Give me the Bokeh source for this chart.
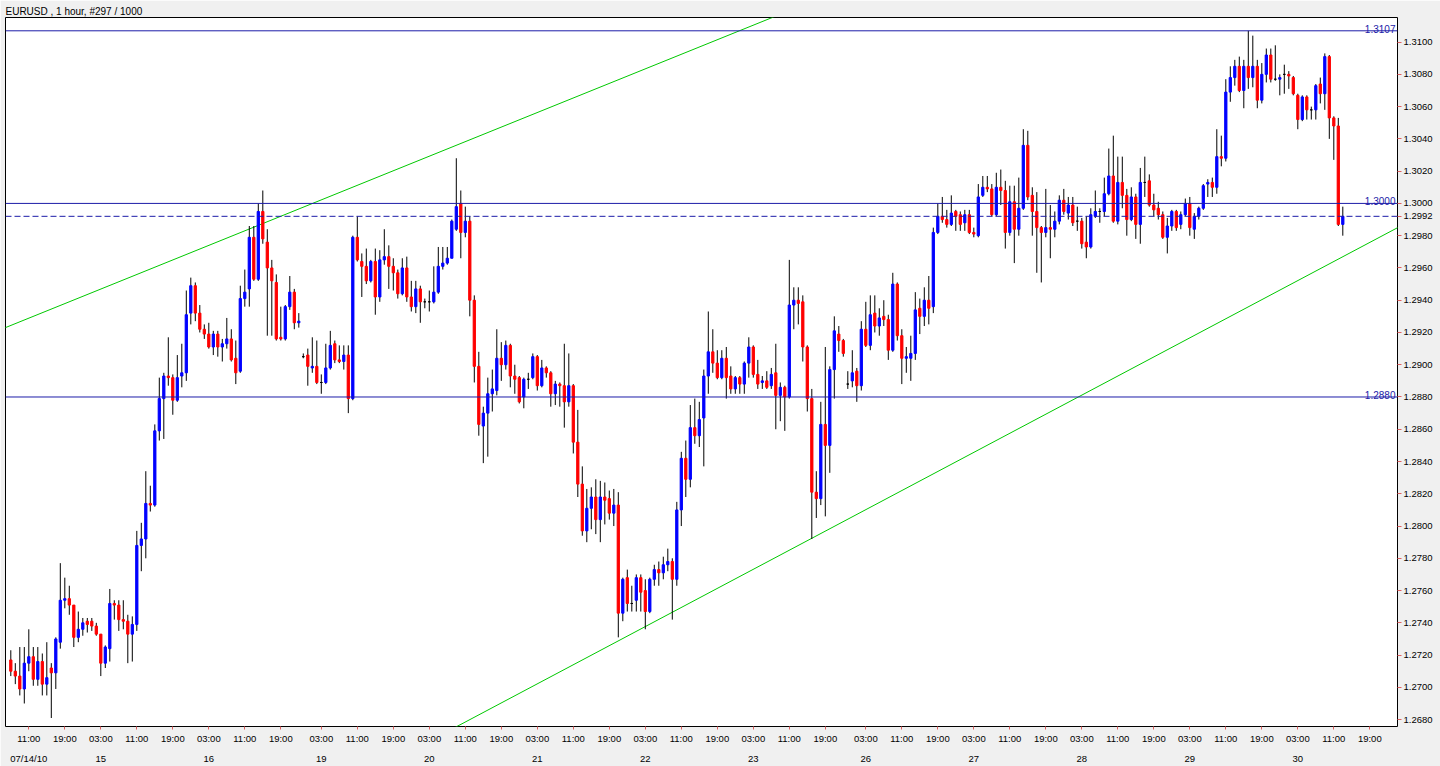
from bokeh.plotting import figure
from bokeh.models import (ColumnDataSource, FixedTicker, LinearAxis, Span, Label,
                          Range1d, PrintfTickFormatter)
from bokeh.embed import file_html
from bokeh.resources import INLINE

# ---------------- data (EURUSD, 1 hour bars, bar index 0..296) ----------------
opens = [
1.2717,1.2710,1.2707,1.2699,1.2715,1.2719,1.2705,1.2716,1.2702,1.2712,
1.2709,1.2728,1.2754,1.2755,1.2751,1.2731,1.2736,1.2741,1.2741,1.2738,
1.2733,1.2715,1.2724,1.2752,1.2751,1.2742,1.2741,1.2733,1.2739,1.2788,
1.2792,1.2814,1.2813,1.2859,1.2879,1.2893,1.2892,1.2878,1.2893,1.2895,
1.2932,1.2949,1.2932,1.2922,1.2919,1.2911,1.2919,1.2911,1.2913,1.2916,
1.2904,1.2896,1.2941,1.2947,1.2979,1.2953,1.2995,1.2976,1.2960,1.2951,
1.2917,1.2916,1.2936,1.2945,1.2926,1.2905,1.2906,1.2898,1.2899,1.2889,
1.2889,1.2898,1.2913,1.2903,1.2902,1.2906,1.2879,1.2979,1.2964,1.2961,
1.2952,1.2964,1.2942,1.2965,1.2967,1.2961,1.2957,1.2944,1.2960,1.2942,
1.2936,1.2947,1.2939,1.2939,1.2939,1.2945,1.2961,1.2963,1.2966,1.2984,
1.3000,1.2982,1.2989,1.2940,1.2899,1.2862,1.2870,1.2882,1.2884,1.2904,
1.2900,1.2912,1.2893,1.2892,1.2880,1.2891,1.2892,1.2905,1.2887,1.2898,
1.2895,1.2882,1.2888,1.2887,1.2877,1.2887,1.2852,1.2826,1.2797,1.2811,
1.2818,1.2804,1.2818,1.2817,1.2808,1.2813,1.2746,1.2768,1.2752,1.2754,
1.2768,1.2760,1.2747,1.2767,1.2773,1.2771,1.2776,1.2778,1.2767,1.2810,
1.2842,1.2829,1.2861,1.2856,1.2867,1.2893,1.2908,1.2901,1.2892,1.2904,
1.2893,1.2885,1.2892,1.2888,1.2901,1.2911,1.2894,1.2889,1.2890,1.2887,
1.2895,1.2881,1.2886,1.2880,1.2937,1.2940,1.2939,1.2911,1.2879,1.2821,
1.2817,1.2863,1.2850,1.2897,1.2919,1.2915,1.2888,1.2890,1.2896,1.2887,
1.2922,1.2912,1.2932,1.2924,1.2930,1.2928,1.2909,1.2950,1.2918,1.2904,
1.2904,1.2907,1.2935,1.2930,1.2940,1.2936,1.2982,1.2992,1.2990,1.2987,
1.2995,1.2993,1.2988,1.2993,1.2982,1.2980,1.3005,1.3010,1.3009,1.2993,
1.3010,1.3008,1.2982,1.3001,1.2984,1.2997,1.3036,1.3005,1.2995,1.2985,
1.2982,1.2985,1.2984,1.2989,1.3002,1.2994,1.2999,1.2989,1.2989,1.2976,
1.2973,1.2992,1.2995,1.2995,1.3006,1.3017,1.2989,1.3013,1.3005,1.2990,
1.3004,1.2987,1.3013,1.3014,1.2999,1.2997,1.2993,1.2979,1.2986,1.2995,
1.2987,1.2993,1.3000,1.2984,1.2992,1.2997,1.3012,1.3013,1.3010,1.3029,
1.3028,1.3069,1.3078,1.3085,1.3070,1.3085,1.3078,1.3085,1.3064,1.3080,
1.3092,1.3077,1.3077,1.3080,1.3080,1.3078,1.3067,1.3052,1.3066,1.3058,
1.3058,1.3074,1.3068,1.3091,1.3053,1.3048,1.2987]

highs = [
1.2723,1.2715,1.2725,1.2725,1.2736,1.2725,1.2725,1.2721,1.2728,1.2715,
1.2731,1.2777,1.2768,1.2763,1.2751,1.2747,1.2743,1.2743,1.2743,1.2740,
1.2733,1.2726,1.2761,1.2754,1.2754,1.2754,1.2745,1.2744,1.2797,1.2802,
1.2834,1.2825,1.2863,1.2892,1.2895,1.2917,1.2894,1.2906,1.2913,1.2946,
1.2954,1.2951,1.2937,1.2925,1.2926,1.2921,1.2921,1.2916,1.2929,1.2922,
1.2915,1.2949,1.2959,1.2986,1.2986,1.3000,1.3008,1.2984,1.2965,1.2956,
1.2936,1.2937,1.2955,1.2947,1.2932,1.2907,1.2910,1.2917,1.2915,1.2894,
1.2913,1.2921,1.2915,1.2912,1.2912,1.2912,1.2980,1.2992,1.2969,1.2972,
1.2965,1.2972,1.2971,1.2984,1.2974,1.2966,1.2959,1.2966,1.2967,1.2952,
1.2952,1.2949,1.2941,1.2946,1.2961,1.2973,1.2973,1.2973,1.2990,1.3028,
1.3008,1.2998,1.2992,1.2943,1.2908,1.2874,1.2892,1.2897,1.2922,1.2914,
1.2915,1.2913,1.2900,1.2893,1.2892,1.2895,1.2907,1.2906,1.2903,1.2899,
1.2896,1.2890,1.2889,1.2913,1.2907,1.2888,1.2872,1.2837,1.2823,1.2824,
1.2829,1.2828,1.2827,1.2822,1.2823,1.2821,1.2768,1.2773,1.2763,1.2770,
1.2770,1.2767,1.2768,1.2776,1.2778,1.2781,1.2786,1.2780,1.2815,1.2846,
1.2853,1.2875,1.2879,1.2877,1.2897,1.2933,1.2922,1.2909,1.2909,1.2911,
1.2899,1.2893,1.2893,1.2902,1.2917,1.2912,1.2903,1.2893,1.2896,1.2898,
1.2913,1.2889,1.2887,1.2965,1.2948,1.2948,1.2943,1.2912,1.2885,1.2834,
1.2877,1.2911,1.2899,1.2930,1.2924,1.2916,1.2896,1.2909,1.2898,1.2927,
1.2939,1.2943,1.2943,1.2935,1.2940,1.2931,1.2957,1.2951,1.2922,1.2911,
1.2918,1.2945,1.2941,1.2948,1.2955,1.2985,1.3000,1.3004,1.2996,1.3005,
1.2996,1.2995,1.2996,1.2996,1.2985,1.3012,1.3017,1.3017,1.3012,1.3019,
1.3021,1.3014,1.3011,1.3011,1.3016,1.3046,1.3045,1.3010,1.3007,1.2986,
1.3009,1.2999,1.2995,1.3005,1.3009,1.3004,1.3004,1.2998,1.2991,1.2992,
1.2997,1.3008,1.2997,1.3016,1.3034,1.3042,1.3029,1.3029,1.3009,1.3010,
1.3006,1.3022,1.3029,1.3018,1.3006,1.3001,1.2995,1.2991,1.2996,1.2996,
1.2995,1.3003,1.3004,1.2994,1.2998,1.3012,1.3015,1.3016,1.3046,1.3042,
1.3077,1.3085,1.3089,1.3091,1.3089,1.3107,1.3104,1.3089,1.3087,1.3096,
1.3096,1.3098,1.3080,1.3086,1.3082,1.3079,1.3068,1.3067,1.3067,1.3060,
1.3074,1.3078,1.3093,1.3092,1.3054,1.3053,1.2998]

lows = [
1.2707,1.2702,1.2695,1.2690,1.2710,1.2701,1.2701,1.2695,1.2695,1.2681,
1.2699,1.2724,1.2749,1.2745,1.2725,1.2728,1.2732,1.2734,1.2735,1.2732,
1.2707,1.2712,1.2716,1.2742,1.2735,1.2736,1.2715,1.2716,1.2735,1.2772,
1.2780,1.2809,1.2812,1.2853,1.2854,1.2887,1.2869,1.2877,1.2886,1.2890,
1.2925,1.2927,1.2920,1.2916,1.2910,1.2906,1.2905,1.2902,1.2910,1.2902,
1.2888,1.2895,1.2936,1.2936,1.2952,1.2952,1.2975,1.2918,1.2918,1.2915,
1.2915,1.2915,1.2934,1.2922,1.2923,1.2904,1.2887,1.2895,1.2888,1.2882,
1.2888,1.2897,1.2901,1.2901,1.2897,1.2870,1.2878,1.2964,1.2942,1.2950,
1.2951,1.2931,1.2939,1.2962,1.2947,1.2946,1.2941,1.2943,1.2939,1.2933,
1.2932,1.2926,1.2935,1.2933,1.2938,1.2944,1.2959,1.2962,1.2966,1.2983,
1.2966,1.2979,1.2930,1.2889,1.2856,1.2839,1.2843,1.2871,1.2881,1.2890,
1.2897,1.2886,1.2882,1.2876,1.2873,1.2885,1.2891,1.2884,1.2886,1.2892,
1.2874,1.2875,1.2874,1.2861,1.2874,1.2845,1.2818,1.2794,1.2790,1.2798,
1.2795,1.2790,1.2801,1.2804,1.2800,1.2731,1.2741,1.2747,1.2747,1.2747,
1.2747,1.2736,1.2746,1.2763,1.2763,1.2767,1.2772,1.2742,1.2763,1.2800,
1.2818,1.2824,1.2851,1.2849,1.2837,1.2882,1.2895,1.2891,1.2891,1.2879,
1.2882,1.2882,1.2882,1.2882,1.2892,1.2892,1.2885,1.2885,1.2885,1.2885,
1.2860,1.2865,1.2859,1.2879,1.2922,1.2925,1.2902,1.2871,1.2792,1.2805,
1.2813,1.2806,1.2833,1.2879,1.2908,1.2905,1.2885,1.2886,1.2877,1.2884,
1.2911,1.2909,1.2920,1.2918,1.2924,1.2903,1.2908,1.2915,1.2888,1.2895,
1.2890,1.2903,1.2919,1.2924,1.2925,1.2932,1.2981,1.2988,1.2985,1.2986,
1.2983,1.2983,1.2983,1.2981,1.2979,1.2979,1.3004,1.3007,1.2992,1.2992,
1.2999,1.2972,1.2980,1.2963,1.2980,1.2996,1.3002,1.2980,1.2957,1.2951,
1.2979,1.2966,1.2979,1.2987,1.2993,1.2990,1.2986,1.2983,1.2972,1.2966,
1.2972,1.2991,1.2988,1.2992,1.3005,1.2988,1.2987,1.2997,1.2980,1.2989,
1.2978,1.2975,1.3004,1.2998,1.2992,1.2990,1.2978,1.2969,1.2983,1.2983,
1.2984,1.2992,1.2980,1.2978,1.2990,1.2996,1.3004,1.3004,1.3006,1.3023,
1.3026,1.3063,1.3073,1.3069,1.3059,1.3071,1.3072,1.3059,1.3062,1.3075,
1.3075,1.3076,1.3067,1.3068,1.3071,1.3067,1.3046,1.3051,1.3052,1.3052,
1.3052,1.3062,1.3058,1.3040,1.3027,1.2986,1.2980]

closes = [
1.2710,1.2707,1.2699,1.2715,1.2719,1.2705,1.2716,1.2702,1.2706,1.2709,
1.2730,1.2754,1.2755,1.2751,1.2731,1.2736,1.2740,1.2739,1.2738,1.2733,
1.2715,1.2725,1.2752,1.2751,1.2742,1.2741,1.2733,1.2739,1.2788,1.2792,
1.2814,1.2813,1.2859,1.2879,1.2893,1.2892,1.2878,1.2892,1.2895,1.2931,
1.2949,1.2932,1.2922,1.2919,1.2911,1.2919,1.2911,1.2913,1.2916,1.2903,
1.2895,1.2941,1.2945,1.2979,1.2953,1.2995,1.2978,1.2960,1.2952,1.2916,
1.2916,1.2936,1.2945,1.2926,1.2927,1.2905,1.2899,1.2899,1.2889,1.2889,
1.2898,1.2912,1.2903,1.2902,1.2906,1.2879,1.2979,1.2965,1.2961,1.2952,
1.2964,1.2942,1.2965,1.2967,1.2961,1.2957,1.2944,1.2960,1.2942,1.2936,
1.2947,1.2939,1.2939,1.2939,1.2945,1.2961,1.2963,1.2966,1.2989,1.2998,
1.2982,1.2989,1.2940,1.2899,1.2863,1.2870,1.2882,1.2885,1.2904,1.2900,
1.2912,1.2893,1.2891,1.2877,1.2891,1.2891,1.2905,1.2887,1.2898,1.2895,
1.2882,1.2888,1.2887,1.2877,1.2887,1.2852,1.2826,1.2797,1.2811,1.2818,
1.2804,1.2818,1.2816,1.2808,1.2813,1.2746,1.2767,1.2752,1.2752,1.2768,
1.2759,1.2747,1.2767,1.2773,1.2771,1.2776,1.2778,1.2767,1.2810,1.2842,
1.2829,1.2861,1.2856,1.2866,1.2893,1.2908,1.2901,1.2892,1.2904,1.2892,
1.2885,1.2892,1.2888,1.2901,1.2911,1.2894,1.2888,1.2890,1.2886,1.2894,
1.2881,1.2886,1.2880,1.2937,1.2940,1.2938,1.2911,1.2879,1.2821,1.2817,
1.2863,1.2850,1.2897,1.2921,1.2915,1.2907,1.2888,1.2895,1.2887,1.2922,
1.2912,1.2931,1.2924,1.2929,1.2928,1.2909,1.2950,1.2918,1.2904,1.2905,
1.2907,1.2934,1.2930,1.2940,1.2935,1.2982,1.2992,1.2990,1.2987,1.2994,
1.2992,1.2987,1.2993,1.2982,1.2981,1.3004,1.3010,1.3009,1.2993,1.3010,
1.3008,1.2982,1.3001,1.2984,1.2997,1.3036,1.3004,1.2995,1.2985,1.2982,
1.2985,1.2984,1.2989,1.3002,1.2995,1.2999,1.2988,1.2989,1.2975,1.2973,
1.2993,1.2995,1.2995,1.3006,1.3017,1.2989,1.3013,1.3005,1.2990,1.3004,
1.2987,1.3013,1.3013,1.2999,1.2996,1.2993,1.2979,1.2986,1.2995,1.2985,
1.2993,1.3000,1.2985,1.2992,1.2997,1.3011,1.3013,1.3010,1.3029,1.3028,
1.3069,1.3078,1.3085,1.3070,1.3085,1.3078,1.3085,1.3064,1.3080,1.3092,
1.3077,1.3077,1.3078,1.3080,1.3079,1.3068,1.3052,1.3066,1.3058,1.3058,
1.3073,1.3068,1.3091,1.3053,1.3048,1.2987,1.2992]

# bottom time scale (bar index of each label; one extra bar across each weekend)
time_label_bars = ([4, 12, 20, 28, 36, 44, 52, 60] +
                   [69, 77, 85, 93, 101, 109, 117, 125, 133, 141, 149, 157, 165, 173, 181] +
                   [190, 198, 206, 214, 222, 230, 238, 246, 254, 262, 270, 278, 286, 294, 302])
time_labels = (["11:00", "19:00", "03:00", "11:00", "19:00", "03:00", "11:00", "19:00"] +
               ["03:00", "11:00", "19:00"] * 5 +
               ["03:00", "11:00", "19:00"] * 5)
date_label_bars = [4, 20, 44, 69, 93, 117, 141, 165, 190, 214, 238, 262, 286]
date_labels = ["07/14/10", "15", "16", "19", "20", "21", "22", "23",
               "26", "27", "28", "29", "30"]

price_ticks = [1.2680, 1.2700, 1.2720, 1.2740, 1.2760, 1.2780, 1.2800, 1.2820,
               1.2840, 1.2860, 1.2880, 1.2900, 1.2920, 1.2940, 1.2960, 1.2980,
               1.3000, 1.3020, 1.3040, 1.3060, 1.3080, 1.3100]

levels = [1.3107, 1.3000, 1.2880]
bid = 1.2992

# trend lines: two anchor points each (bar index, price)
upper_trend_x = [-1.2, 169.0]
upper_trend_y = [1.2923, 1.3115]
lower_trend_x = [99.3, 308.2]
lower_trend_y = [1.2676, 1.2985]

title_text = "EURUSD , 1 hour, #297 / 1000"

# ---------------- styles ----------------
BULL = "#0000ff"
BEAR = "#ff0000"
DOJI = "#000000"
LEVEL = "#1c1ca8"
TREND = "#00c800"
TICK = "#e06060"
FONT = "Liberation Sans"

X0, X1 = -1.178, 308.156
Y0, Y1 = 1.267574, 1.311525

p = figure(width=1440, height=766,
           x_range=Range1d(X0, X1), y_range=Range1d(Y0, Y1),
           output_backend="svg", toolbar_location=None,
           y_axis_location="right", x_axis_location="below",
           min_border_left=5, min_border_right=43,
           min_border_top=17, min_border_bottom=37)
p.border_fill_color = "#f0f0f0"
p.background_fill_color = "white"
p.outline_line_color = "black"
p.outline_line_width = 1
p.xgrid.grid_line_color = None
p.ygrid.grid_line_color = None

# title in the top border
p.title.text = title_text
p.title.text_font = FONT
p.title.text_font_size = "10px"
p.title.text_font_style = "normal"
p.title.text_color = "black"
p.title.align = "left"
p.title.offset = 0
p.title.standoff = 1

n = len(opens)
idx = list(range(n))
body_top = [max(o, c) for o, c in zip(opens, closes)]
body_bot = [min(o, c) for o, c in zip(opens, closes)]
colors = [BULL if c > o else (BEAR if c < o else DOJI) for o, c in zip(opens, closes)]

src = ColumnDataSource(dict(x=idx, o=opens, h=highs, l=lows, c=closes,
                            top=body_top, bottom=body_bot, color=colors))

# trend lines (extended across the frame)
def extend(xs, ys):
    k = (ys[1] - ys[0]) / (xs[1] - xs[0])
    xa, xb = X0 - 5, X1 + 5
    return [xa, xb], [ys[0] + k * (xa - xs[0]), ys[0] + k * (xb - xs[0])]

ux, uy = extend(upper_trend_x, upper_trend_y)
lx, ly = extend(lower_trend_x, lower_trend_y)
p.line(ux, uy, line_color=TREND, line_width=1)
p.line(lx, ly, line_color=TREND, line_width=1)

# horizontal levels
for lv in levels:
    p.add_layout(Span(location=lv, dimension="width", line_color=LEVEL, line_width=1))
    p.add_layout(Label(x=307.7, y=lv, text=f"{lv:.4f}", text_align="right",
                       text_baseline="alphabetic", y_offset=2,
                       text_font=FONT, text_font_size="10px", text_color=LEVEL))
p.add_layout(Span(location=bid, dimension="width", line_color=LEVEL,
                  line_width=1, line_dash="6 3"))

# candles
p.segment(x0="x", y0="l", x1="x", y1="h", source=src, line_color="black", line_width=1)
p.vbar(x="x", width=0.5, top="top", bottom="bottom", source=src,
       fill_color="color", line_color="color", line_width=1)

# right price axis (the current bid price is shown on it as well)
yax = p.yaxis[0]
yax.ticker = FixedTicker(ticks=price_ticks + [bid])
yax.formatter = PrintfTickFormatter(format="%.4f")
yax.axis_line_color = None
yax.major_tick_line_color = TICK
yax.major_tick_out = 4
yax.major_tick_in = 0
yax.minor_tick_line_color = None
yax.major_label_standoff = 2
yax.major_label_text_font = FONT
yax.major_label_text_font_size = "9.5px"
yax.major_label_text_color = "black"

# bottom time axis
xax = p.xaxis[0]
xax.ticker = FixedTicker(ticks=time_label_bars)
xax.major_label_overrides = {b: t for b, t in zip(time_label_bars, time_labels)}
xax.axis_line_color = None
xax.major_tick_line_color = TICK
xax.major_tick_out = 3
xax.major_tick_in = 0
xax.minor_tick_line_color = None
xax.major_label_standoff = 3
xax.major_label_text_font = FONT
xax.major_label_text_font_size = "9.5px"
xax.major_label_text_color = "black"

# date row under the time labels
date_axis = LinearAxis(ticker=FixedTicker(ticks=date_label_bars),
                       major_label_overrides={b: t for b, t in zip(date_label_bars, date_labels)},
                       axis_line_color=None, major_tick_line_color=None,
                       major_tick_out=0, major_tick_in=0,
                       minor_tick_line_color=None, minor_tick_out=0, minor_tick_in=0,
                       major_label_standoff=6,
                       major_label_text_font=FONT, major_label_text_font_size="9.5px",
                       major_label_text_color="black")
p.add_layout(date_axis, "below")

open("out.html", "w").write(file_html(p, INLINE))
